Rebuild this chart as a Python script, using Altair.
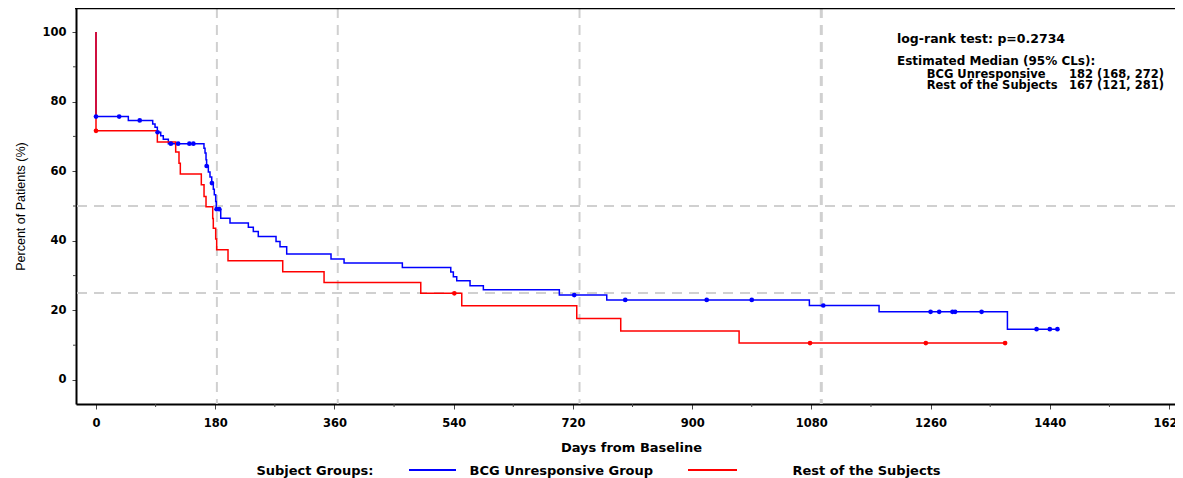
import altair as alt
import pandas as pd

# ---------------- data ----------------
groups = ["BCG Unresponsive Group", "Rest of the Subjects"]
colors = ["#0000ff", "#ff0000"]

blue_days = [0, 0, 48.8, 85.6, 89.1, 92.6, 97.7, 101.6, 109.2, 163.0, 164.6, 166.1,
             167.0, 169.6, 172.1, 174.7, 177.1, 178.6, 180.7, 181.6, 188.3, 202.3,
             230.0, 237.5, 245.0, 271.8, 277.8, 287.9, 354.8, 374.5, 462.5, 535.6,
             539.5, 544.6, 564.7, 584.8, 699.5, 771.1, 1077.0, 1182.2, 1376.0, 1451.5]
blue_pct = [100, 75.7, 74.6, 73.6, 72.6, 71.2, 70.2, 69.2, 67.9, 66.6, 65.2, 63.3,
            61.5, 59.8, 58.3, 56.6, 54.8, 53.2, 51.3, 49.1, 46.5, 45.1,
            43.9, 42.7, 41.2, 39.8, 38.3, 36.2, 34.8, 33.6, 32.3, 31.0,
            29.7, 28.5, 27.1, 25.9, 24.4, 23.0, 21.4, 19.6, 14.6, 14.6]

red_days = [0, 0, 92.6, 120.3, 125.3, 127.3, 159.0, 163.1, 166.1, 176.2, 177.1,
            180.7, 182.2, 199.3, 281.9, 344.3, 490.3, 552.2, 725.8, 792.2, 970.9, 1372.5]
red_pct = [100, 71.6, 68.4, 65.5, 62.3, 59.2, 56.1, 52.7, 49.8, 46.4, 43.6,
           40.5, 37.4, 34.3, 31.1, 28.0, 24.9, 21.3, 17.7, 14.1, 10.6, 10.6]

blue_cens_days = [0, 35, 66, 93, 113, 124, 141, 147, 167, 175, 182, 186, 722, 799,
                  922, 990, 1098, 1260, 1273, 1293, 1297, 1337, 1420, 1440, 1451.5]
blue_cens_pct = [75.7, 75.7, 74.6, 71.2, 67.9, 67.9, 67.9, 67.9, 61.5, 56.6, 49.1,
                 49.1, 24.4, 23.0, 23.0, 23.0, 21.4, 19.6, 19.6, 19.6, 19.6, 19.6,
                 14.6, 14.6, 14.6]
red_cens_days = [0, 541, 1078, 1252.8, 1372.5]
red_cens_pct = [71.6, 24.9, 10.6, 10.6, 10.6]

ref_days = [182.5, 365, 730, 1095]
ref_widths = [2, 2, 2, 3]
ref_pct = [50, 25]

x_ticks = [0, 180, 360, 540, 720, 900, 1080, 1260, 1440, 1620]
x_minor = [90, 270, 450, 630, 810, 990, 1170, 1350, 1530]
y_ticks = [0, 20, 40, 60, 80, 100]
y_minor = [10, 30, 50, 70, 90]

annot_lines = ["log-rank test:  p=0.2734", "Estimated Median (95% CLs):"]
annot_sub_labels = ["BCG Unresponsive", "Rest of the Subjects"]
annot_sub_values = ["182 (168, 272)", "167 (121, 281)"]

# ---------------- tables ----------------
curve_rows = []
for g, ds, ps in [(groups[0], blue_days, blue_pct), (groups[1], red_days, red_pct)]:
    for i, (d, p) in enumerate(zip(ds, ps)):
        curve_rows.append({"group": g, "day": d, "pct": p, "ord": i})
curves = pd.DataFrame(curve_rows)

cens = pd.DataFrame(
    [{"group": groups[0], "day": d, "pct": p} for d, p in zip(blue_cens_days, blue_cens_pct)]
    + [{"group": groups[1], "day": d, "pct": p} for d, p in zip(red_cens_days, red_cens_pct)]
)

W, H = 1099, 396
FONT = "DejaVu Sans"

xs = alt.Scale(domain=[-30.2, 1629], nice=False, zero=False)
ys = alt.Scale(domain=[-6.9, 106.9], nice=False, zero=False)
cs = alt.Scale(domain=groups, range=colors)

x_axis = alt.Axis(values=x_ticks, title="Days from Baseline", grid=False,
                  tickSize=5, tickColor="#444444", domainColor="black", domainWidth=2,
                  labelFont=FONT, labelFontWeight="bold", labelFontSize=11.5,
                  labelColor="black", labelBaseline="alphabetic", labelPadding=17.5,
                  labelFlush=False, labelOverlap=False, labelBound=False, format="d",
                  titleFont=FONT, titleFontWeight="bold", titleFontSize=13,
                  titleColor="black", titleBaseline="alphabetic", titleY=47, titleX=555)
y_axis = alt.Axis(values=y_ticks, title="Percent of Patients (%)", grid=False,
                  tickSize=4, tickColor="#444444", domainColor="black", domainWidth=2,
                  labelFont=FONT, labelFontWeight="bold", labelFontSize=11.5,
                  labelColor="black", labelPadding=6, format="d",
                  titleFont="Liberation Sans", titleFontWeight="normal", titleFontSize=12.5,
                  titleColor="black", titleX=-56, titleY=198, titleBaseline="middle")

X = lambda: alt.X("day:Q", scale=xs, axis=x_axis)
Y = lambda: alt.Y("pct:Q", scale=ys, axis=y_axis)

one = pd.DataFrame({"k": [0]})

vref = alt.Chart(pd.DataFrame({"day": ref_days, "w": ref_widths})).mark_rule(
    color="#d0d0d0", strokeDash=[10, 7]).encode(
    x=X(), strokeWidth=alt.StrokeWidth("w:Q", scale=None, legend=None))
href = alt.Chart(pd.DataFrame({"pct": ref_pct})).mark_rule(
    color="#d0d0d0", strokeDash=[10, 7], strokeWidth=2).encode(y=Y())

xminor = alt.Chart(pd.DataFrame({"day": x_minor})).mark_rule(color="#444444").encode(
    x=X(), y=alt.value(H), y2=alt.value(H + 3))
yminor = alt.Chart(pd.DataFrame({"pct": y_minor})).mark_rule(color="#444444").encode(
    y=Y(), x=alt.value(0), x2=alt.value(-3))

top_border = alt.Chart(one).mark_rule(color="black", strokeWidth=2.5).encode(
    x=alt.value(-1), x2=alt.value(W + 20), y=alt.value(0))

lines = alt.Chart(curves).mark_line(interpolate="step-after", strokeWidth=1.5).encode(
    x=X(), y=Y(),
    color=alt.Color("group:N", scale=cs, legend=None),
    order="ord:Q")

dots = alt.Chart(cens).mark_circle(size=22, opacity=1).encode(
    x=X(), y=Y(),
    color=alt.Color("group:N", scale=cs, legend=None))


def txt(s, x, y, size, align="left"):
    return alt.Chart(one).mark_text(font=FONT, fontWeight="bold", fontSize=size,
                                    align=align, baseline="alphabetic", color="black").encode(
        x=alt.value(x), y=alt.value(y), text=alt.value(s))


ann = [
    txt(annot_lines[0], 821, 34.7, 12.5),
    txt(annot_lines[1], 821, 57.2, 12),
    txt(annot_sub_labels[0], 850.7, 69.6, 11.5),
    txt(annot_sub_values[0], 993, 69.6, 11.5),
    txt(annot_sub_labels[1], 850.7, 81.4, 11.5),
    txt(annot_sub_values[1], 993, 81.4, 11.5),
]

leg = [
    txt("Subject Groups:", 180.4, 466.5, 13),
    txt(groups[0], 393.6, 466.5, 13),
    txt(groups[1], 716.5, 466.5, 13),
    alt.Chart(one).mark_rule(color=colors[0], strokeWidth=2).encode(
        x=alt.value(333), x2=alt.value(380), y=alt.value(462)),
    alt.Chart(one).mark_rule(color=colors[1], strokeWidth=2).encode(
        x=alt.value(612), x2=alt.value(661), y=alt.value(462)),
]

chart = alt.layer(vref, href, xminor, yminor, top_border, lines, dots, *ann, *leg).properties(
    width=W, height=H,
    autosize=alt.AutoSizeParams(type="none"),
    padding={"left": 68, "top": 0, "right": 0, "bottom": 74},
).configure_view(stroke=None).configure(background="white")

chart.save("out.html", embed_options={"renderer": "svg", "actions": False})
